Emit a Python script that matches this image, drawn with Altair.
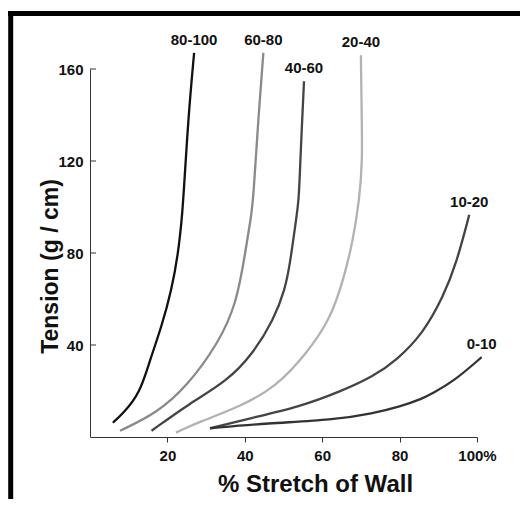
import altair as alt
import pandas as pd

# Tension vs. wall stretch curves, one per range of wall thickness
series_names = ["80-100", "60-80", "40-60", "20-40", "10-20", "0-10"]
series_colors = ["#111111", "#8a8a8a", "#444444", "#b2b2b2", "#444444", "#333333"]

s80_100_x = [5.9, 8.6, 12.9, 15.5, 18.5, 21.1, 22.8, 23.7, 24.1, 25.4, 26.9]
s80_100_y = [6.2, 10.3, 19.0, 33.5, 48.0, 64.0, 80.0, 94.5, 103.0, 139.0, 167.0]

s60_80_x = [7.75, 17.2, 25.0, 33.2, 37.9, 40.1, 41.5, 42.2, 43.5, 44.8]
s60_80_y = [2.7, 10.3, 21.9, 40.8, 58.2, 80.0, 94.5, 103.0, 139.0, 167.0]

s40_60_x = [15.9, 25.8, 35.3, 42.2, 47.4, 50.4, 51.7, 53.0, 54.0, 54.3, 55.3]
s40_60_y = [2.7, 14.7, 24.1, 36.4, 50.9, 64.0, 75.6, 91.6, 103.0, 119.0, 154.7]

s20_40_x = [22.2, 28.4, 38.8, 48.2, 56.0, 62.0, 65.5, 68.0, 69.6, 70.4, 70.2, 70.0]
s20_40_y = [1.9, 6.7, 13.2, 21.9, 36.4, 50.9, 68.3, 85.8, 103.0, 120.0, 140.0, 166.0]

s10_20_x = [31.0, 41.3, 54.3, 64.6, 73.2, 79.3, 86.1, 91.3, 94.7, 98.0]
s10_20_y = [3.8, 8.1, 13.2, 19.7, 26.3, 33.5, 45.1, 61.1, 75.6, 96.6]

s0_10_x = [31.0, 45.7, 62.9, 73.2, 80.1, 86.1, 88.6, 93.9, 101.2]
s0_10_y = [3.8, 6.0, 7.4, 10.3, 13.2, 16.8, 19.1, 24.1, 34.7]

x_ticks = [20, 40, 60, 80, 100]
y_ticks = [40, 80, 120, 160]

FONT = "Liberation Sans"

all_series = [
    (s80_100_x, s80_100_y), (s60_80_x, s60_80_y), (s40_60_x, s40_60_y),
    (s20_40_x, s20_40_y), (s10_20_x, s10_20_y), (s0_10_x, s0_10_y),
]

rows = []
for name, (xs, ys) in zip(series_names, all_series):
    for i, (xv, yv) in enumerate(zip(xs, ys)):
        rows.append({"series": name, "stretch": xv, "tension": yv, "idx": i})
df = pd.DataFrame(rows)

ends = pd.DataFrame([
    {"series": name, "stretch": xs[-1], "tension": ys[-1]}
    for name, (xs, ys) in zip(series_names, all_series)
])

x_scale = alt.Scale(domain=[0, 100], nice=False, zero=False)
y_scale = alt.Scale(domain=[0, 160], nice=False)
color_scale = alt.Scale(domain=series_names, range=series_colors)

lines = alt.Chart(df).mark_line(strokeWidth=2.3, interpolate="basis").encode(
    x=alt.X("stretch:Q", scale=x_scale, axis=alt.Axis(
        values=x_ticks, title="% Stretch of Wall", grid=False,
        labelExpr="datum.value == 100 ? '100%' : datum.label",
        labelFlush=False,
        tickSize=5, labelPadding=6, labelFont=FONT, labelFontSize=15,
        labelFontWeight="bold", labelColor="#111",
        titleFont=FONT, titleFontSize=24, titleFontWeight="bold", titleColor="#111",
        titleX=225, titleY=54, titleBaseline="alphabetic", titleAnchor="middle",
        domainColor="#333", tickColor="#333")),
    y=alt.Y("tension:Q", scale=y_scale, axis=alt.Axis(
        values=y_ticks, title="Tension (g / cm)", grid=False,
        tickSize=0, labelPadding=7, labelFont=FONT, labelFontSize=15,
        labelFontWeight="bold", labelColor="#111",
        titleFont=FONT, titleFontSize=23, titleFontWeight="bold", titleColor="#111",
        titleX=-33, titleY=197, titleBaseline="alphabetic", titleAngle=270,
        titleAnchor="middle", domainColor="#333")),
    color=alt.Color("series:N", scale=color_scale, legend=None),
    order="idx:Q",
)

labels = alt.Chart(ends).mark_text(
    font=FONT, fontSize=15, fontWeight="bold", color="#111", dy=-13, baseline="middle"
).encode(
    x=alt.X("stretch:Q", scale=x_scale),
    y=alt.Y("tension:Q", scale=y_scale),
    text="series:N",
)

# inward tick marks on the tension axis
y_tick_marks = alt.Chart(pd.DataFrame({"t": y_ticks})).mark_rule(
    color="#333", strokeWidth=1
).encode(
    y=alt.Y("t:Q", scale=y_scale),
    x=alt.value(0), x2=alt.value(6),
)

# heavy frame along the top and left sides of the figure
frame_top = alt.Chart(pd.DataFrame({"k": [0]})).mark_rule(
    color="black", strokeWidth=5, strokeCap="butt"
).encode(x=alt.value(-82), x2=alt.value(430), y=alt.value(-55.5))
frame_left = alt.Chart(pd.DataFrame({"k": [0]})).mark_rule(
    color="black", strokeWidth=5, strokeCap="butt"
).encode(x=alt.value(-79.3), y=alt.value(-58), y2=alt.value(430))

chart = alt.layer(lines, y_tick_marks, labels, frame_top, frame_left).properties(
    width=387, height=368,
    padding={"left": 90, "top": 69, "right": 50, "bottom": 70},
    autosize=alt.AutoSizeParams(type="none"),
    background="white",
).configure_view(stroke=None)

chart.save("out.html", embed_options={"renderer": "svg", "actions": False})
